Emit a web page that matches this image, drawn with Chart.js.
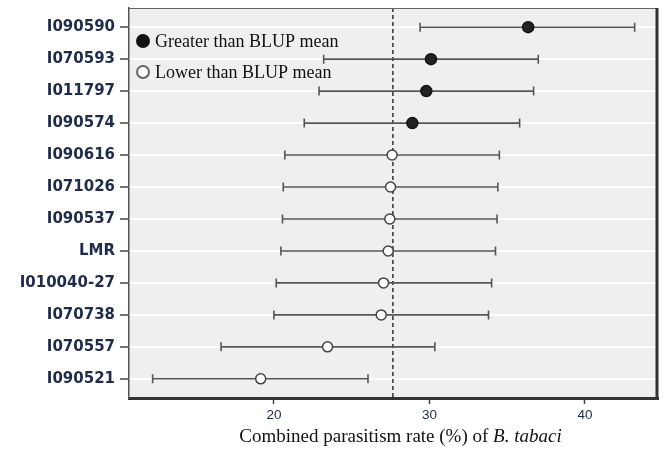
<!DOCTYPE html>
<html>
<head>
<meta charset="utf-8">
<script src="https://cdn.jsdelivr.net/npm/chart.js@4.4.1/dist/chart.umd.min.js"></script>
<style>
  html, body { margin: 0; padding: 0; background: #fff; }
  #wrap { width: 665px; height: 453px; }
</style>
</head>
<body>
<div id="wrap"><canvas id="js-chart" width="665" height="453"></canvas></div>
<script>
// accessions, top to bottom
const labels = ['I090590', 'I070593', 'I011797', 'I090574', 'I090616', 'I071026',
    'I090537', 'LMR', 'I010040-27', 'I070738', 'I070557', 'I090521'];
const lowerCI = [29.4, 23.2, 22.9, 21.95, 20.7, 20.6, 20.55, 20.45, 20.15, 20.0, 16.6, 12.2];
const means   = [36.35, 30.1, 29.8, 28.9, 27.6, 27.5, 27.45, 27.35, 27.05, 26.9, 23.45, 19.15];
const upperCI = [43.2, 37.0, 36.7, 35.8, 34.5, 34.4, 34.35, 34.25, 34.0, 33.8, 30.35, 26.05];
const blupMean = 27.65;
const xTicks = [20, 30, 40];

const chartElement = document.getElementById('js-chart');

const greaterPoints = [];
const lowerPoints = [];
means.forEach((m, i) => {
    if (m > blupMean) greaterPoints.push({ x: m, y: i });
    else lowerPoints.push({ x: m, y: i });
});

const navy = '#1f2b4d';

const backgroundPlugin = {
    id: 'plotBackground',
    beforeDraw(chart) {
        const { ctx, chartArea: a } = chart;
        ctx.save();
        ctx.fillStyle = '#efefef';
        ctx.fillRect(a.left, a.top, a.right - a.left, a.bottom - a.top);
        ctx.restore();
    }
};

const errorBarPlugin = {
    id: 'errorBars',
    beforeDatasetsDraw(chart) {
        const { ctx, scales: { x, y }, chartArea: a } = chart;
        ctx.save();
        // BLUP mean reference line
        const mx = x.getPixelForValue(blupMean);
        ctx.strokeStyle = '#333';
        ctx.lineWidth = 1.5;
        ctx.setLineDash([4, 3]);
        ctx.beginPath();
        ctx.moveTo(mx, a.top);
        ctx.lineTo(mx, a.bottom);
        ctx.stroke();
        ctx.setLineDash([]);

        ctx.strokeStyle = '#555';
        ctx.lineWidth = 1.6;
        labels.forEach((_, i) => {
            const py = y.getPixelForValue(i);
            const x1 = x.getPixelForValue(lowerCI[i]);
            const x2 = x.getPixelForValue(upperCI[i]);
            ctx.beginPath();
            ctx.moveTo(x1, py);
            ctx.lineTo(x2, py);
            ctx.moveTo(x1, py - 4.5);
            ctx.lineTo(x1, py + 4.5);
            ctx.moveTo(x2, py - 4.5);
            ctx.lineTo(x2, py + 4.5);
            ctx.stroke();
        });
        ctx.restore();
    }
};

const framePlugin = {
    id: 'frame',
    afterDraw(chart) {
        const { ctx, chartArea: a } = chart;
        ctx.save();
        ctx.strokeStyle = '#666';
        ctx.lineWidth = 1;
        ctx.beginPath();
        ctx.moveTo(a.left, a.top + 0.5);
        ctx.lineTo(a.right, a.top + 0.5);
        ctx.stroke();
        ctx.strokeStyle = '#333';
        ctx.lineWidth = 3;
        ctx.beginPath();
        ctx.moveTo(a.right - 1, a.top);
        ctx.lineTo(a.right - 1, a.bottom + 1);
        ctx.stroke();

        // legend
        const items = [
            { text: 'Greater than BLUP mean', fill: '#111', stroke: '#111' },
            { text: 'Lower than BLUP mean', fill: '#fff', stroke: '#666' }
        ];
        ctx.font = '18px "Liberation Serif", "Times New Roman", serif';
        ctx.textBaseline = 'middle';
        items.forEach((it, k) => {
            const cy = a.top + 33 + k * 31;
            ctx.beginPath();
            ctx.arc(a.left + 14, cy, 6, 0, Math.PI * 2);
            ctx.fillStyle = it.fill;
            ctx.fill();
            ctx.lineWidth = 2;
            ctx.strokeStyle = it.stroke;
            ctx.stroke();
            ctx.fillStyle = '#111';
            ctx.fillText(it.text, a.left + 26, cy + 1);
        });

        // x axis title with italic species name
        const part1 = 'Combined parasitism rate (%) of ';
        const part2 = 'B. tabaci';
        const f1 = '19px "Liberation Serif", "Times New Roman", serif';
        const f2 = 'italic 19px "Liberation Serif", "Times New Roman", serif';
        ctx.font = f1;
        const w1 = ctx.measureText(part1).width;
        ctx.font = f2;
        const w2 = ctx.measureText(part2).width;
        const start = (a.left + a.right) / 2 + 7 - (w1 + w2) / 2;
        const ty = a.bottom + 39;
        ctx.fillStyle = '#111';
        ctx.textAlign = 'left';
        ctx.font = f1;
        ctx.fillText(part1, start, ty);
        ctx.font = f2;
        ctx.fillText(part2, start + w1, ty);
        ctx.restore();
    }
};

const chartConfig = {
    type: 'scatter',
    data: {
        datasets: [{
            label: 'Greater than BLUP mean',
            data: greaterPoints,
            pointRadius: 5.5,
            pointBackgroundColor: '#222',
            pointBorderColor: '#111',
            pointBorderWidth: 1.5
        }, {
            label: 'Lower than BLUP mean',
            data: lowerPoints,
            pointRadius: 5,
            pointBackgroundColor: '#fff',
            pointBorderColor: '#444',
            pointBorderWidth: 1.5
        }]
    },
    options: {
        responsive: false,
        animation: false,
        layout: { padding: { top: 8, right: 7, left: 0, bottom: 0 } },
        plugins: {
            legend: { display: false },
            tooltip: { enabled: false }
        },
        scales: {
            x: {
                type: 'linear',
                min: 10.68,
                max: 44.7,
                afterBuildTicks(scale) {
                    scale.ticks = xTicks.map(v => ({ value: v }));
                },
                afterFit(scale) {
                    scale.height = 55;
                    scale.paddingLeft = 0;
                    scale.paddingRight = 0;
                },
                grid: {
                    drawOnChartArea: false,
                    drawTicks: true,
                    tickLength: 6,
                    tickColor: '#444',
                    tickWidth: 1.5
                },
                border: { color: '#333', width: 3 },
                ticks: {
                    padding: 3,
                    color: navy,
                    font: { family: '"Liberation Sans", Arial, sans-serif', size: 13.5 }
                }
            },
            y: {
                type: 'linear',
                reverse: true,
                min: -0.6,
                max: 11.6,
                afterBuildTicks(scale) {
                    scale.ticks = labels.map((_, i) => ({ value: i }));
                },
                afterFit(scale) {
                    scale.width = 129;
                    scale.paddingTop = 0;
                    scale.paddingBottom = 0;
                },
                grid: {
                    color: '#ffffff',
                    lineWidth: 2,
                    tickColor: '#444',
                    tickWidth: 1.5,
                    tickLength: 9
                },
                border: { color: '#555', width: 1.5 },
                ticks: {
                    padding: 5,
                    color: navy,
                    font: { family: '"DejaVu Sans", sans-serif', size: 15, weight: 'bold' },
                    callback: (v) => labels[v] ?? ''
                }
            }
        }
    },
    plugins: [backgroundPlugin, errorBarPlugin, framePlugin]
};

new Chart(chartElement, chartConfig);
</script>
</body>
</html>
